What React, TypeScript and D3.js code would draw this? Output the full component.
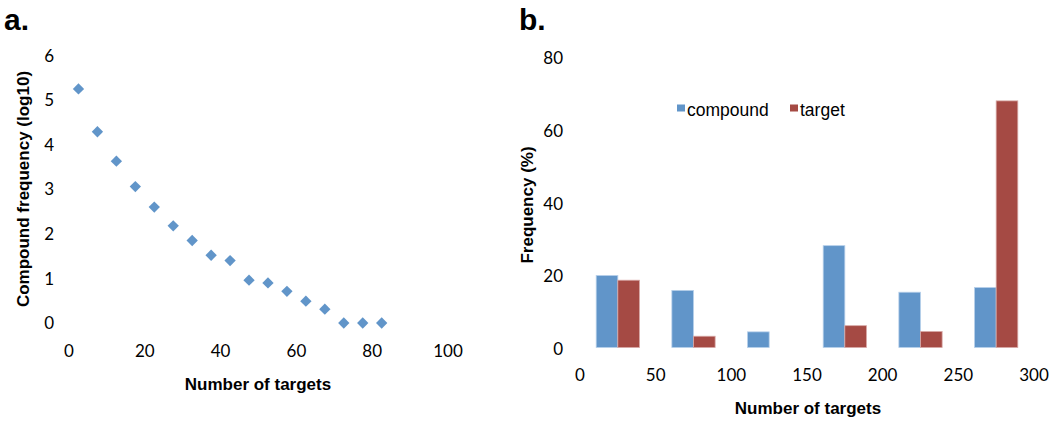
import React from "react";
import * as d3 from "d3";

// Panel a: compound frequency (log10) vs number of targets
const targetBinsA = [2.5, 7.5, 12.5, 17.5, 22.5, 27.5, 32.5, 37.5, 42.5, 47.5, 52.5, 57.5, 62.5, 67.5, 72.5, 77.5, 82.5];
const logFrequency = [5.25, 4.29, 3.63, 3.06, 2.6, 2.18, 1.85, 1.52, 1.4, 0.96, 0.9, 0.71, 0.49, 0.31, 0, 0, 0];
const xTicksA = [0, 20, 40, 60, 80, 100];
const yTicksA = [0, 1, 2, 3, 4, 5, 6];

// Panel b: frequency (%) of compounds and targets per bin
const binCentersB = [25, 75, 125, 175, 225, 275];
const compoundPct = [19.8, 15.7, 4.3, 28.0, 15.2, 16.5];
const targetPct = [18.5, 3.1, 0, 6.0, 4.4, 67.8];
const seriesNames = ["compound", "target"];
const xTicksB = [0, 50, 100, 150, 200, 250, 300];
const yTicksB = [0, 20, 40, 60, 80];

const BLUE = "#6195C9";
const RED = "#A54A44";
const TICK_FONT = "Lato, 'Open Sans', sans-serif";
const TITLE_FONT = "'Liberation Sans', Arial, sans-serif";

export default function App() {
  const xA = d3.scaleLinear().domain([0, 100]).range([69, 448]);
  const yA = d3.scaleLinear().domain([0, 6]).range([323, 55.5]);

  const xB = d3.scaleLinear().domain([0, 300]).range([580, 1034]);
  const yB = d3.scaleLinear().domain([0, 80]).range([347.5, 56.5]);
  const barW = 14.3; // in data units

  const diamond = d3.symbol().type(d3.symbolSquare).size(64)();

  return (
    <svg
      width={1050}
      height={421}
      style={{ position: "absolute", left: 0, top: 0, background: "#fff" }}
    >
      <rect x={0} y={0} width={1050} height={421} fill="#fff" />
      {/* Panel labels */}
      <text x={4} y={30} fontFamily={TITLE_FONT} fontWeight="bold" fontSize={30} fill="#000">a.</text>
      <text x={519} y={30} fontFamily={TITLE_FONT} fontWeight="bold" fontSize={30} fill="#000">b.</text>

      {/* Panel a */}
      <g>
        {yTicksA.map((t) => (
          <text key={"ya" + t} x={54} y={yA(t)} dy="0.36em" textAnchor="end" fontFamily={TICK_FONT} fontSize={17} fill="#000">
            {t}
          </text>
        ))}
        {xTicksA.map((t) => (
          <text key={"xa" + t} x={xA(t)} y={351} dy="0.36em" textAnchor="middle" fontFamily={TICK_FONT} fontSize={17} fill="#000">
            {t}
          </text>
        ))}
        {targetBinsA.map((x, i) => (
          <path key={"pt" + i} d={diamond as string} transform={`translate(${xA(x)},${yA(logFrequency[i])}) rotate(45)`} fill={BLUE} />
        ))}
        <text x={258} y={384} dy="0.36em" textAnchor="middle" fontFamily={TITLE_FONT} fontWeight="bold" fontSize={17} fill="#000">
          Number of targets
        </text>
        <text transform="translate(23,189) rotate(-90)" dy="0.36em" textAnchor="middle" fontFamily={TITLE_FONT} fontWeight="bold" fontSize={17} fill="#000">
          Compound frequency (log10)
        </text>
      </g>

      {/* Panel b */}
      <g>
        {yTicksB.map((t) => (
          <text key={"yb" + t} x={563} y={yB(t) + 1.5} dy="0.36em" textAnchor="end" fontFamily={TICK_FONT} fontSize={17} fill="#000">
            {t}
          </text>
        ))}
        {xTicksB.map((t) => (
          <text key={"xb" + t} x={xB(t)} y={375} dy="0.36em" textAnchor="middle" fontFamily={TICK_FONT} fontSize={17} fill="#000">
            {t}
          </text>
        ))}
        {binCentersB.map((c, i) => (
          <g key={"bar" + i}>
            <rect
              x={xB(c - barW)}
              y={yB(compoundPct[i])}
              width={xB(c) - xB(c - barW)}
              height={yB(0) - yB(compoundPct[i])}
              fill={BLUE}
              stroke="#B7D0EA"
              strokeWidth={0.8}
            />
            {targetPct[i] > 0 && (
              <rect
                x={xB(c)}
                y={yB(targetPct[i])}
                width={xB(c + barW) - xB(c)}
                height={yB(0) - yB(targetPct[i])}
                fill={RED}
                stroke="#D8A9A6"
                strokeWidth={0.8}
              />
            )}
          </g>
        ))}
        {/* Legend */}
        <rect x={677} y={104.5} width={8} height={7} fill={BLUE} />
        <text x={687} y={116} fontFamily={TITLE_FONT} fontSize={17.5} fill="#000">{seriesNames[0]}</text>
        <rect x={790} y={104.5} width={8} height={7} fill={RED} />
        <text x={800} y={116} fontFamily={TITLE_FONT} fontSize={17.5} fill="#000">{seriesNames[1]}</text>

        <text x={808} y={408} dy="0.36em" textAnchor="middle" fontFamily={TITLE_FONT} fontWeight="bold" fontSize={17} fill="#000">
          Number of targets
        </text>
        <text transform="translate(527,205) rotate(-90)" dy="0.36em" textAnchor="middle" fontFamily={TITLE_FONT} fontWeight="bold" fontSize={17} fill="#000">
          Frequency (%)
        </text>
      </g>
    </svg>
  );
}
